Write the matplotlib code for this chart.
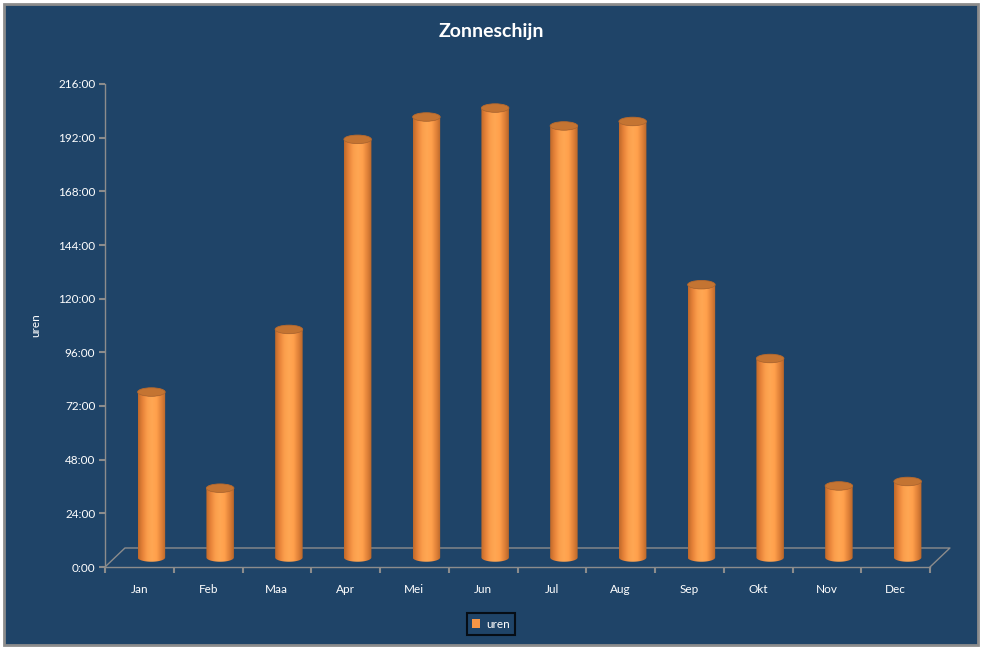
import numpy as np
import matplotlib.pyplot as plt
from matplotlib.patches import Ellipse, Polygon, Rectangle
from matplotlib.colors import LinearSegmentedColormap
from matplotlib.ticker import FixedLocator, FuncFormatter

plt.rcParams["font.family"] = ["Lato", "DejaVu Sans"]

# Data: hours of sunshine per month
months = ["Jan", "Feb", "Maa", "Apr", "Mei", "Jun", "Jul", "Aug", "Sep", "Okt", "Nov", "Dec"]
uren = [74, 31, 102, 187, 197, 201, 193, 195, 122, 89, 32, 34]
y_ticks = [0, 24, 48, 72, 96, 120, 144, 168, 192, 216]

BG = "#1f4468"
GRAY = "#8c8c8c"
TOP = "#c47432"
bar_cmap = LinearSegmentedColormap.from_list(
    "cyl", ["#c0692a", "#e8843a", "#fb9e4c", "#ffa753", "#ffa04c", "#e3843a", "#b9662a"]
)

fig = plt.figure(figsize=(9.87, 6.48), dpi=100)
fig.patch.set_facecolor("white")
fig.patches.append(Rectangle((4 / 987, 3 / 648), 974 / 987, 641 / 648,
                             transform=fig.transFigure, facecolor=BG,
                             edgecolor=GRAY, linewidth=2, zorder=-10))

ax = fig.add_axes([105 / 987, 81 / 648, 825 / 987, 483 / 648])
ax.set_facecolor("none")

x = np.arange(len(months))
w = 0.40          # bar width in category units
dx, dy = 0.29, 8.5  # depth offset of the floor
off_x, off_y = dx / 2 + 0.03, dy / 2
eh = 3.8          # ellipse height in hours

for xi, val in zip(x, uren):
    cx = xi + off_x
    bottom = off_y
    top = off_y + val
    t = np.linspace(np.pi, 2 * np.pi, 40)
    bx = cx + (w / 2) * np.cos(t)
    by = bottom + (eh / 2) * np.sin(t)
    tx = cx + (w / 2) * np.cos(t[::-1])
    ty = top + (eh / 2) * np.sin(t[::-1])
    pts = np.column_stack([np.concatenate([bx, tx]), np.concatenate([by, ty])])
    body = Polygon(pts, closed=True, facecolor="none", edgecolor="none")
    ax.add_patch(body)
    grad = np.linspace(0, 1, 64).reshape(1, -1)
    im = ax.imshow(grad, cmap=bar_cmap, aspect="auto",
                   extent=(cx - w / 2, cx + w / 2, bottom - eh, top + eh),
                   zorder=3, interpolation="bilinear")
    im.set_clip_path(body)
    ax.add_patch(Ellipse((cx, top), w, eh, facecolor=TOP, edgecolor="#b8692c",
                         linewidth=0.6, zorder=4))

# 3D floor edges
ax.plot([-0.5, -0.5 + dx, 11.5 + dx, 11.5], [0, dy, dy, 0], color=GRAY,
        linewidth=1, clip_on=False, zorder=2)

ax.set_xlim(-0.5, 11.5)
ax.set_ylim(0, 216)

for side in ["top", "right"]:
    ax.spines[side].set_visible(False)
for side in ["left", "bottom"]:
    ax.spines[side].set_color(GRAY)
    ax.spines[side].set_linewidth(1)

ax.yaxis.set_major_locator(FixedLocator(y_ticks))
ax.yaxis.set_major_formatter(FuncFormatter(lambda v, p: f"{int(v)}:00"))
ax.tick_params(axis="y", colors=GRAY, labelcolor="white", labelsize=8.5,
               length=4, width=1.5, direction="out", pad=3)

ax.set_xticks(x)
ax.set_xticklabels(months)
ax.set_xticks(np.arange(-0.5, 12, 1), minor=True)
ax.tick_params(axis="x", which="major", length=0, labelcolor="white",
               labelsize=8.5, pad=12)
ax.tick_params(axis="x", which="minor", length=4, width=1.5, colors=GRAY,
               direction="out")

ax.set_ylabel("uren", color="white", fontsize=8.5, labelpad=12)

fig.text(491 / 987, 1 - 31 / 648, "Zonneschijn", color="white", fontsize=14,
         fontweight="bold", ha="center", va="center")

handle = Rectangle((0, 0), 1, 1, facecolor="#f79646", edgecolor="none")
leg = fig.legend([handle], ["uren"], loc="center", bbox_to_anchor=(491 / 987, 1 - 624 / 648),
                 frameon=True, fancybox=False, fontsize=8.5, handlelength=0.7,
                 handleheight=0.7, handletextpad=0.5, borderpad=0.45,
                 labelcolor="white")
leg.get_frame().set_facecolor(BG)
leg.get_frame().set_edgecolor("black")
leg.get_frame().set_linewidth(1.5)

fig.savefig("out.png", dpi=100, facecolor=fig.get_facecolor())
